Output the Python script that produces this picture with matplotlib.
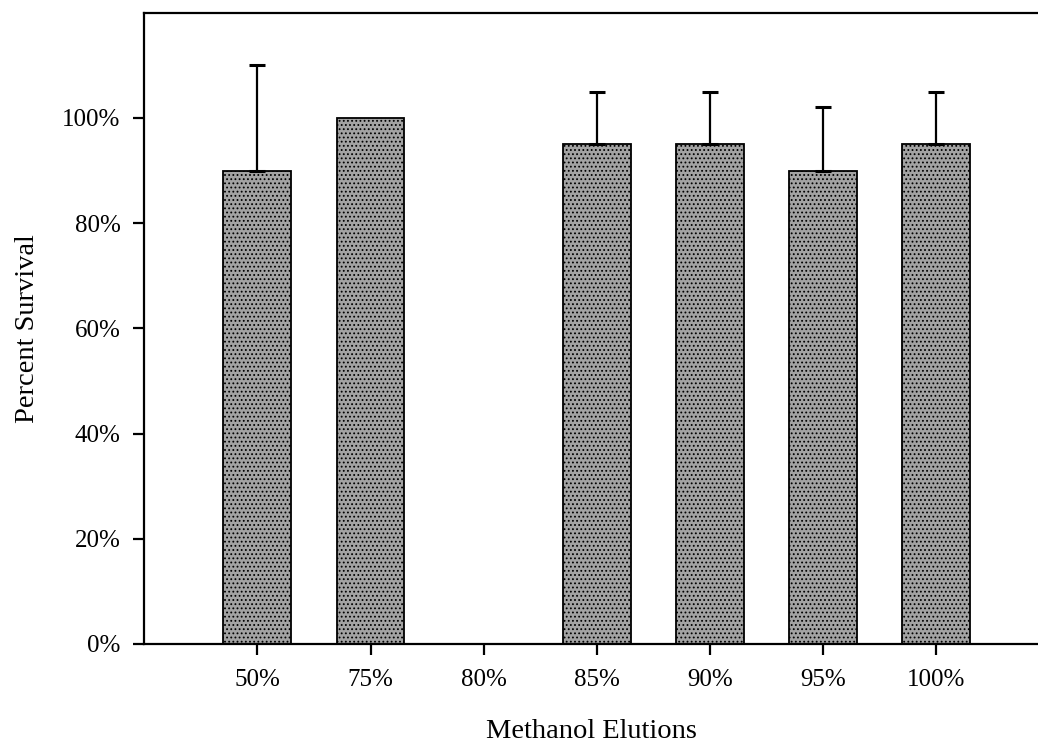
import matplotlib
matplotlib.use("Agg")
import matplotlib.pyplot as plt
import numpy as np

plt.rcParams['font.family'] = ['Liberation Serif', 'DejaVu Serif']
plt.rcParams['hatch.color'] = '#6e6e6e'
plt.rcParams['hatch.linewidth'] = 0.8

categories = ['50%', '75%', '80%', '85%', '90%', '95%', '100%']
survival = [90, 100, 0, 95, 95, 90, 95]
err_up = [20, 0, 0, 10, 10, 12, 10]

fig = plt.figure(figsize=(10.38, 7.51), dpi=100)
ax = fig.add_axes([0.139, 0.1425, 0.861, 0.8405])

x = np.arange(len(categories))
ax.bar(x, survival, width=0.6, color='#a3a3a3', edgecolor='black',
       linewidth=1.3, hatch='....', zorder=2)

# only the bars that carry an error bar (upward only)
xs = [i for i in x if err_up[i] > 0]
ys = [survival[i] for i in xs]
es = [err_up[i] for i in xs]
ax.errorbar(xs, ys, yerr=[[0] * len(xs), es], fmt='none', ecolor='black',
            elinewidth=1.6, capsize=6, capthick=2.2, zorder=3)

ax.set_xlim(-1.0, 6.9)
ax.set_ylim(0, 120)
ax.set_yticks([0, 20, 40, 60, 80, 100])
ax.set_yticklabels(['0%', '20%', '40%', '60%', '80%', '100%'])
ax.set_xticks(x)
ax.set_xticklabels(categories)

ax.spines['right'].set_visible(False)
for s in ['left', 'bottom', 'top']:
    ax.spines[s].set_linewidth(1.6)

ax.tick_params(axis='y', direction='out', length=8, width=1.6, pad=9, labelsize=18)
ax.tick_params(axis='x', direction='out', length=8, width=1.6, pad=10, labelsize=18)

ax.set_ylabel('Percent Survival', fontsize=20.5, labelpad=16)
ax.set_xlabel('Methanol Elutions', fontsize=20.5, labelpad=20)

fig.savefig('out.png', dpi=100)
